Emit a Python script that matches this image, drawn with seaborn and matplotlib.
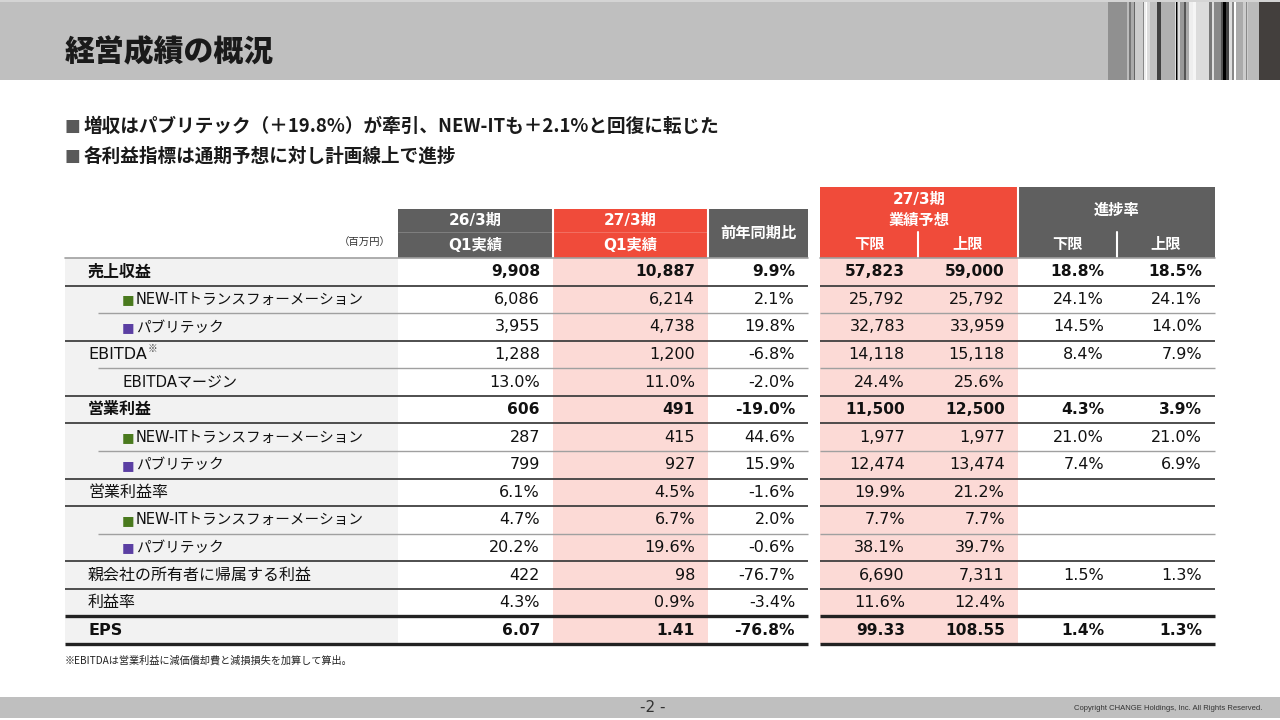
import matplotlib
matplotlib.use("Agg")
import matplotlib.pyplot as plt
from matplotlib.patches import Rectangle
import seaborn as sns

# ---------------- data ----------------
title = "経営成績の概況"
bullets = ["増収はパブリテック（＋19.8%）が牽引、NEW-ITも＋2.1%と回復に転じた",
           "各利益指標は通期予想に対し計画線上で進捗"]

row_labels = ["売上収益", "NEW-ITトランスフォーメーション", "パブリテック",
              "EBITDA", "EBITDAマージン",
              "営業利益", "NEW-ITトランスフォーメーション", "パブリテック",
              "営業利益率", "NEW-ITトランスフォーメーション", "パブリテック",
              "親会社の所有者に帰属する利益", "利益率", "EPS"]
row_kind = ["main", "new", "pub", "plain", "sub", "main", "new", "pub",
            "plain", "new", "pub", "plain", "plain", "main"]
q1_prev = ["9,908", "6,086", "3,955", "1,288", "13.0%", "606", "287", "799",
           "6.1%", "4.7%", "20.2%", "422", "4.3%", "6.07"]
q1_curr = ["10,887", "6,214", "4,738", "1,200", "11.0%", "491", "415", "927",
           "4.5%", "6.7%", "19.6%", "98", "0.9%", "1.41"]
yoy = ["9.9%", "2.1%", "19.8%", "-6.8%", "-2.0%", "-19.0%", "44.6%", "15.9%",
       "-1.6%", "2.0%", "-0.6%", "-76.7%", "-3.4%", "-76.8%"]
fc_low = ["57,823", "25,792", "32,783", "14,118", "24.4%", "11,500", "1,977", "12,474",
          "19.9%", "7.7%", "38.1%", "6,690", "11.6%", "99.33"]
fc_high = ["59,000", "25,792", "33,959", "15,118", "25.6%", "12,500", "1,977", "13,474",
           "21.2%", "7.7%", "39.7%", "7,311", "12.4%", "108.55"]
prog_low = ["18.8%", "24.1%", "14.5%", "8.4%", "", "4.3%", "21.0%", "7.4%",
            "", "", "", "1.5%", "", "1.4%"]
prog_high = ["18.5%", "24.1%", "14.0%", "7.9%", "", "3.9%", "21.0%", "6.9%",
             "", "", "", "1.3%", "", "1.3%"]
row_sep = ["dark", "gray", "dark", "gray", "dark", "dark", "gray", "dark",
           "dark", "gray", "dark", "dark", "thick", "thick"]

footnote = "※EBITDAは営業利益に減価償却費と減損損失を加算して算出。"
page = "-2 -"
copyright_txt = "Copyright CHANGE Holdings, Inc. All Rights Reserved."

# ---------------- style ----------------
sns.set_theme(style="white")
plt.rcParams["font.family"] = ["DejaVu Sans", "Noto Sans CJK JP"]

GRAY_HDR = "#5F5F5F"
RED = "#F04B3A"
PINK = "#FCDAD6"
LABEL_BG = "#F2F2F2"
BAR = "#BFBFBF"
DARK_LINE = "#404040"
GRAY_LINE = "#A0A0A0"
TXT = "#111111"

fig = plt.figure(figsize=(12.8, 7.2), dpi=100)
ax = fig.add_axes([0, 0, 1, 1])
ax.set_xlim(0, 1280)
ax.set_ylim(720, 0)
ax.axis("off")

def rect(x0, y0, x1, y1, color, z=1):
    ax.add_patch(Rectangle((x0, y0), x1 - x0, y1 - y0, facecolor=color,
                           edgecolor="none", zorder=z))

# title bar
rect(0, 0, 1280, 2, "#D4D4D4")
rect(0, 2, 1280, 80, BAR)
stripes = [(1108, 1127, "#909090"), (1127, 1129, "#bbbbbb"), (1129, 1131, "#777777"),
           (1131, 1134, "#aaaaaa"), (1134, 1135, "#666666"), (1135, 1143, "#cccccc"),
           (1143, 1144, "#888888"), (1144, 1146, "#eeeeee"), (1146, 1147, "#ffffff"),
           (1147, 1150, "#dddddd"), (1150, 1157, "#c0c0c0"), (1157, 1161, "#404040"),
           (1161, 1175, "#b0b0b0"), (1175, 1176, "#dddddd"), (1176, 1177, "#000000"),
           (1177, 1178, "#777777"), (1178, 1180, "#dddddd"), (1180, 1184, "#999999"),
           (1184, 1186, "#555555"), (1186, 1189, "#aaaaaa"), (1189, 1193, "#eeeeee"),
           (1193, 1196, "#f5f5f5"), (1196, 1209, "#dcdcdc"), (1209, 1212, "#777777"),
           (1212, 1214, "#dddddd"), (1214, 1221, "#888888"), (1221, 1223, "#555555"),
           (1223, 1226, "#000000"), (1226, 1229, "#444444"), (1229, 1232, "#dddddd"),
           (1232, 1234, "#888888"), (1234, 1236, "#ffffff"), (1236, 1243, "#aaaaaa"),
           (1243, 1246, "#cccccc"), (1246, 1247, "#888888"), (1247, 1248, "#cccccc"),
           (1248, 1259, "#bbbbbb"), (1259, 1280, "#433F3D")]
for a, b, c in stripes:
    rect(a, 2, b, 80, c, z=2)

ax.text(65, 52, title, fontsize=21.5, fontweight="heavy", color="#1a1a1a",
        va="center", ha="left", zorder=3, family=["Noto Sans CJK JP"])

for i, b in enumerate(bullets):
    y = 126 + i * 30
    ax.text(65, y, "■", fontsize=12, color="#595959", va="center", ha="left",
            family=["DejaVu Sans"])
    ax.text(84, y, b, fontsize=13.4, fontweight="bold", color="#1a1a1a",
            va="center", ha="left", family=["Noto Sans CJK JP", "DejaVu Sans"])

# ---------------- table geometry ----------------
L0, L1 = 65, 398
cols = [(398, 553), (553, 708), (708, 808), (820, 918), (918, 1018), (1018, 1117), (1117, 1215)]
col_fill = ["white", PINK, "white", PINK, PINK, "white", "white"]
TOP = 258
N = len(row_labels)
RH = (644 - TOP) / N

rect(L0, TOP, L1, TOP + N * RH, LABEL_BG)
for (a, b), c in zip(cols, col_fill):
    rect(a, TOP, b, TOP + N * RH, c)

# headers
rect(398, 209, 553, 258, GRAY_HDR)
rect(553, 209, 708, 258, RED)
rect(708, 209, 808, 258, GRAY_HDR)
rect(820, 187, 1018, 258, RED)
rect(1018, 187, 1215, 258, GRAY_HDR)
for x, y0 in [(553, 209), (708, 209), (918, 232), (1018, 187), (1117, 232)]:
    ax.plot([x, x], [y0, 258], color="white", lw=1.5, zorder=3)
for a, b in [(398, 553), (553, 708)]:
    ax.plot([a, b], [232, 232], color="white", lw=0.4, alpha=0.35, zorder=3)

hdr_kw = dict(color="white", fontweight="bold", fontsize=11, ha="center", va="center",
              zorder=4, family=["DejaVu Sans", "Noto Sans CJK JP"])
ax.text(475.5, 220, "26/3期", **hdr_kw)
ax.text(475.5, 245, "Q1実績", **hdr_kw)
ax.text(630.5, 220, "27/3期", **hdr_kw)
ax.text(630.5, 245, "Q1実績", **hdr_kw)
ax.text(758, 233.5, "前年同期比", **hdr_kw)
ax.text(919, 199, "27/3期", **hdr_kw)
ax.text(919, 220, "業績予想", **hdr_kw)
ax.text(869, 245, "下限", **hdr_kw)
ax.text(968, 245, "上限", **hdr_kw)
ax.text(1116.5, 210, "進捗率", **hdr_kw)
ax.text(1067.5, 245, "下限", **hdr_kw)
ax.text(1166, 245, "上限", **hdr_kw)
ax.text(391, 243, "（百万円）", fontsize=7.5, color="#333333", ha="right", va="center",
        family=["Noto Sans CJK JP"])

ax.plot([L0, 808], [TOP, TOP], color=GRAY_LINE, lw=1.2, zorder=3)
ax.plot([820, 1215], [TOP, TOP], color=GRAY_LINE, lw=1.2, zorder=3)

# rows
fig.canvas.draw()
renderer = fig.canvas.get_renderer()
values = [q1_prev, q1_curr, yoy, fc_low, fc_high, prog_low, prog_high]
for i in range(N):
    yc = TOP + (i + 0.5) * RH
    kind = row_kind[i]
    bold = kind == "main"
    fs = 11.5
    if kind in ("main", "plain"):
        t = ax.text(88, yc, row_labels[i], fontsize=fs, color=TXT, ha="left", va="center",
                    fontweight="bold" if bold else "normal", zorder=4,
                    family=["DejaVu Sans", "Noto Sans CJK JP"])
        if row_labels[i] == "EBITDA":
            bb = t.get_window_extent(renderer=renderer)
            ax.text(bb.x1 + 1, yc - 5, "※", fontsize=7, color="#444444", ha="left",
                    va="center", zorder=4, family=["Noto Sans CJK JP"])
    elif kind == "sub":
        ax.text(122, yc, row_labels[i], fontsize=10.8, color=TXT, ha="left", va="center",
                zorder=4, family=["DejaVu Sans", "Noto Sans CJK JP"])
    else:
        mcol = "#4A7A1E" if kind == "new" else "#5B3FA3"
        ax.text(122, yc + 0.5, "■", fontsize=9.5, color=mcol, ha="left", va="center",
                zorder=4, family=["DejaVu Sans"])
        ax.text(136, yc, row_labels[i], fontsize=10.5, color=TXT, ha="left", va="center",
                zorder=4, family=["DejaVu Sans", "Noto Sans CJK JP"])
    for (a, b), vals in zip(cols, values):
        ax.text(b - 13, yc, vals[i], fontsize=11.2 if bold else 11.5, color=TXT,
                ha="right", va="center", fontweight="bold" if bold else "normal",
                zorder=4, family=["DejaVu Sans"])
    yb = TOP + (i + 1) * RH
    s = row_sep[i]
    if s == "gray":
        x_start, col, lw = 98, GRAY_LINE, 1.0
    elif s == "dark":
        x_start, col, lw = L0, DARK_LINE, 1.3
    else:
        x_start, col, lw = L0, "#222222", 2.4
    ax.plot([x_start, 808], [yb, yb], color=col, lw=lw, zorder=3, solid_capstyle="butt")
    ax.plot([820, 1215], [yb, yb], color=col, lw=lw, zorder=3, solid_capstyle="butt")

ax.text(65, 661, footnote, fontsize=7.3, color="#222222", ha="left", va="center",
        family=["Noto Sans CJK JP", "DejaVu Sans"])

# bottom bar
rect(0, 697, 1280, 718, BAR)
ax.text(653, 707.5, page, fontsize=11, color="#333333", ha="center", va="center",
        family=["DejaVu Sans"])
ax.text(1262, 708, copyright_txt, fontsize=5.5, color="#333333", ha="right", va="center",
        family=["Liberation Sans"])

fig.savefig("out.png", dpi=100)
